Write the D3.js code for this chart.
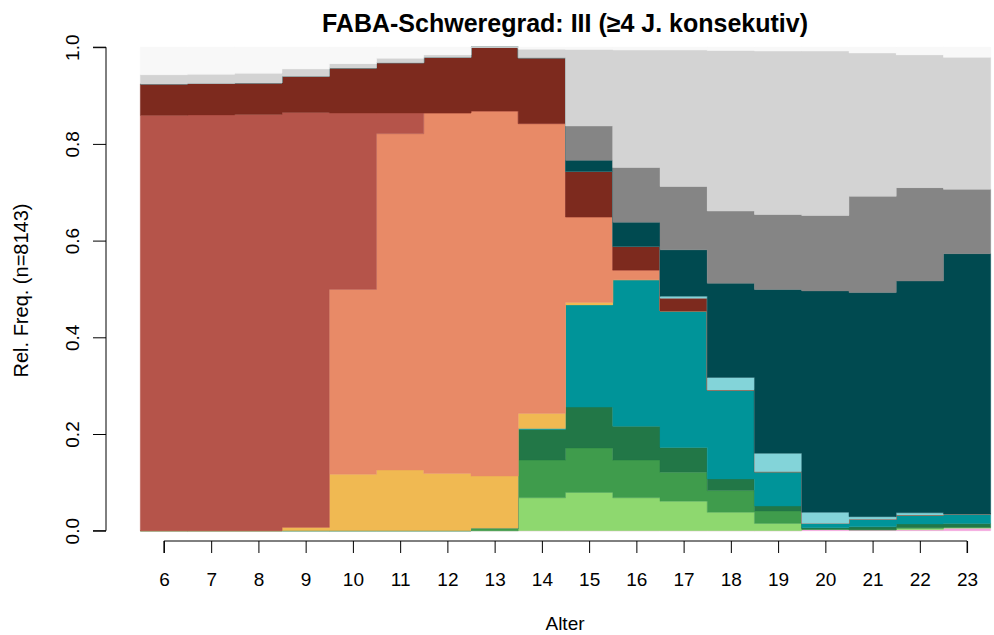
<!DOCTYPE html>
<html>
<head>
<meta charset="utf-8">
<script src="https://cdn.jsdelivr.net/npm/d3@7"></script>
<style>
  body { margin: 0; background: #fff; }
  text { font-family: "Liberation Sans", Arial, Helvetica, sans-serif; fill: #000; }
</style>
</head>
<body>
<svg id="chart" width="994" height="635"></svg>
<script>
// ---- Data (relative frequencies per age, bottom to top of the stack) ----
const ages = [6,7,8,9,10,11,12,13,14,15,16,17,18,19,20,21,22,23];
const xTicks = [6,7,8,9,10,11,12,13,14,15,16,17,18,19,20,21,22,23];
const yTicks = [0, 0.2, 0.4, 0.6, 0.8, 1.0];

const seriesNames = ["pink","lightgreen","medgreen","darkgreen","teal","yellow","salmon","red","maroon","lightcyan","darkteal","gray","lightgray"];
const seriesColors = ["#F4A3DD","#8ED86F","#3F9C4C","#227747","#009499","#F0B952","#E88A67","#B5544A","#7D2A1E","#83D4D9","#004A50","#858585","#D3D3D3"];
const restColor = "#F8F8F8";

const pink       = [0,0,0,0,0,0,0,0,0,0,0,0,0,0,0.003,0.002,0.002,0.005];
const lightgreen = [0,0,0,0,0,0,0,0,0.068,0.079,0.068,0.061,0.038,0.015,0,0,0.003,0.002];
const medgreen   = [0,0,0,0,0,0,0,0.005,0.078,0.092,0.078,0.060,0.045,0.026,0,0,0.001,0];
const darkgreen  = [0,0,0,0,0,0,0,0,0.0635,0.0846,0.070,0.051,0.024,0.010,0.003,0.006,0.008,0.008];
const teal       = [0,0,0,0,0,0,0,0,0.002,0.2114,0.303,0.2825,0.184,0.071,0.009,0.0155,0.0185,0.0195];
const yellow     = [0,0,0,0.007,0.1165,0.1254,0.1185,0.108,0.031,0.005,0,0,0,0,0,0,0,0];
const salmon     = [0,0,0,0,0.3825,0.6956,0.7455,0.755,0.5995,0.177,0.020,0,0,0,0,0,0,0];
const red        = [0.859,0.860,0.861,0.858,0.365,0.043,0,0,0,0,0,0,0,0,0,0,0,0];
const maroon     = [0.065,0.065,0.065,0.075,0.093,0.104,0.115,0.132,0.136,0.094,0.049,0.0265,0,0,0,0,0,0];
const lightcyan  = [0,0,0,0,0,0,0,0,0,0,0,0.004,0.026,0.038,0.023,0.0055,0.0045,0];
const darkteal   = [0,0,0,0,0,0,0,0,0,0.023,0.050,0.096,0.195,0.339,0.458,0.4635,0.4795,0.5385];
const gray       = [0,0,0,0,0,0,0,0,0,0.071,0.113,0.131,0.149,0.155,0.156,0.199,0.193,0.133];
const lightgray  = [0.019,0.019,0.020,0.015,0.009,0.009,0.005,0,0.018,0.158,0.243,0.282,0.332,0.338,0.340,0.2965,0.2745,0.273];

const seriesValues = [pink,lightgreen,medgreen,darkgreen,teal,yellow,salmon,red,maroon,lightcyan,darkteal,gray,lightgray];

// ---- Build table for d3.stack ----
const keys = seriesNames.concat(["rest"]);
const table = ages.map((a, i) => {
  const row = { age: a };
  let sum = 0;
  seriesNames.forEach((k, j) => { row[k] = seriesValues[j][i]; sum += seriesValues[j][i]; });
  row.rest = Math.max(0, 1 - sum);
  return row;
});
const colors = seriesColors.concat([restColor]);

const svg = d3.select("#chart");
const x = d3.scaleLinear().domain([5.5, 23.5]).range([140.3, 990.7]);
const y = d3.scaleLinear().domain([0, 1]).range([530.7, 47.2]);

const stacked = d3.stack().keys(keys)(table);

const area = d3.area()
  .x(d => x(d.xv))
  .y0(d => y(d.y0))
  .y1(d => y(d.y1));

stacked.forEach((layer, li) => {
  const pts = [];
  layer.forEach(d => {
    const a = d.data.age;
    pts.push({ xv: a - 0.5, y0: d[0], y1: d[1] });
    pts.push({ xv: a + 0.5, y0: d[0], y1: d[1] });
  });
  svg.append("path")
    .attr("d", area(pts))
    .attr("fill", colors[li])
    .attr("stroke", colors[li])
    .attr("stroke-width", 0.4);
});

// ---- Axes ----
const xAxis = d3.axisBottom(x).tickValues(xTicks).tickSize(12).tickFormat(d3.format("d"));
const gx = svg.append("g").attr("transform", "translate(0,541)").call(xAxis);
gx.select(".domain").attr("d", `M${x(6)},12V0H${x(23)}V12`).attr("stroke", "#000");
gx.selectAll(".tick line").attr("stroke", "#000");
gx.selectAll(".tick text")
  .style("font-size", "19px")
  .attr("y", 45).attr("dy", 0);

const yAxis = d3.axisLeft(y).tickValues(yTicks).tickSize(13).tickFormat(d3.format(".1f"));
const gy = svg.append("g").attr("transform", "translate(106,0)").call(yAxis);
gy.select(".domain").attr("d", `M-13,${y(0)}H0V${y(1)}H-13`).attr("stroke", "#000");
gy.selectAll(".tick line").attr("stroke", "#000");
gy.selectAll(".tick text")
  .style("font-size", "19px")
  .attr("x", 0).attr("y", 0).attr("dy", 0)
  .attr("text-anchor", "middle")
  .attr("transform", "translate(-27,0) rotate(-90)");

// ---- Titles ----
svg.append("text")
  .attr("x", 565).attr("y", 31.5)
  .attr("text-anchor", "middle")
  .style("font-size", "25px").style("font-weight", "bold")
  .text("FABA-Schweregrad: III (≥4 J. konsekutiv)");

svg.append("text")
  .attr("x", 565).attr("y", 630)
  .attr("text-anchor", "middle")
  .style("font-size", "19px")
  .text("Alter");

svg.append("text")
  .attr("transform", "translate(28,290.5) rotate(-90)")
  .attr("text-anchor", "middle")
  .style("font-size", "20px")
  .text("Rel. Freq. (n=8143)");
</script>
</body>
</html>
